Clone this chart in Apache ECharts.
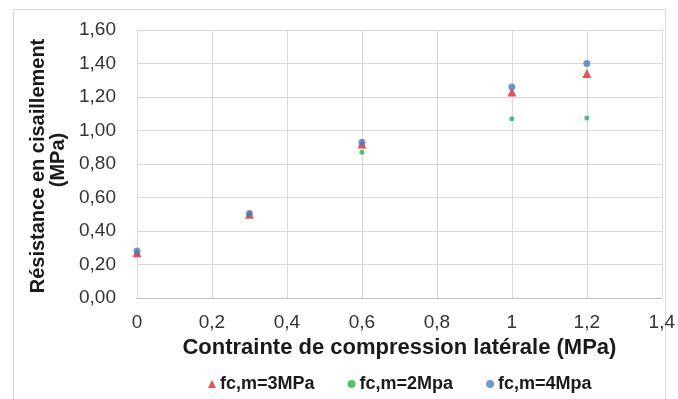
<!DOCTYPE html>
<html><head><meta charset="utf-8">
<script src="https://cdn.jsdelivr.net/npm/echarts@6/dist/echarts.min.js"></script>
<style>html,body{margin:0;padding:0;background:#fff}#c{width:678px;height:399px}</style>
</head><body><div id="c"></div>
<script>
const xValues = [0, 0.3, 0.6, 1.0, 1.2];
const s3MPa = [0.27, 0.50, 0.92, 1.23, 1.34];
const s2MPa = [0.27, 0.50, 0.87, 1.07, 1.075];
const s4MPa = [0.28, 0.505, 0.93, 1.26, 1.40];
const seriesNames = ['fc,m=3MPa', 'fc,m=2Mpa', 'fc,m=4Mpa'];
const yTitle1 = 'Résistance en cisaillement';
const yTitle2 = '(MPa)';
const xTitle = 'Contrainte de compression latérale (MPa)';

const pair = (vals) => xValues.map((x, i) => [x, vals[i]]);
const font = 'Liberation Sans, Arial, sans-serif';
const chart = echarts.init(document.getElementById('c'), null, {renderer: 'canvas'});
chart.setOption({
  animation: false,
  backgroundColor: '#fff',
  grid: {left: 137, right: 13, top: 30, bottom: 101, containLabel: false},
  xAxis: {
    type: 'value', min: 0, max: 1.4, interval: 0.2,
    name: xTitle, nameLocation: 'middle', nameGap: 36,
    nameTextStyle: {fontFamily: font, fontWeight: 'bold', fontSize: 22, color: '#1a1a1a'},
    axisLine: {show: true, lineStyle: {color: '#bfbfbf'}},
    axisTick: {show: false},
    axisLabel: {fontFamily: font, fontSize: 19, color: '#333', margin: 15,
      formatter: v => String(Math.round(v * 10) / 10).replace('.', ',')},
    splitLine: {show: true, lineStyle: {color: '#d9d9d9'}}
  },
  yAxis: {
    type: 'value', min: 0, max: 1.6, interval: 0.2,
    axisLine: {show: true, lineStyle: {color: '#d9d9d9'}},
    axisTick: {show: false},
    axisLabel: {fontFamily: font, fontSize: 19, color: '#333', margin: 21,
      formatter: v => v.toFixed(2).replace('.', ',')},
    splitLine: {show: true, lineStyle: {color: '#d9d9d9'}}
  },
  legend: {
    top: 370, left: 203, itemGap: 33, itemWidth: 8, itemHeight: 8,
    textStyle: {fontFamily: font, fontWeight: 'bold', fontSize: 18, color: '#1a1a1a', padding: [0, 0, 0, -1]},
    data: [
      {name: seriesNames[0], icon: 'triangle', itemStyle: {}},
      {name: seriesNames[1], icon: 'circle', itemStyle: {}},
      {name: seriesNames[2], icon: 'circle', itemStyle: {}}
    ]
  },
  graphic: [
    {type: 'rect', shape: {x: 13.5, y: 9.5, width: 652, height: 395}, style: {fill: 'none', stroke: '#d9d9d9', lineWidth: 1}, silent: true, z: -1},
    {type: 'text', x: 38, y: 166, rotation: Math.PI / 2, style: {text: yTitle1, font: 'bold 20px ' + font, fill: '#1a1a1a', textAlign: 'center', textVerticalAlign: 'middle'}},
    {type: 'text', x: 58, y: 160, rotation: Math.PI / 2, style: {text: yTitle2, font: 'bold 20px ' + font, fill: '#1a1a1a', textAlign: 'center', textVerticalAlign: 'middle'}}
  ],
  series: [
    {name: seriesNames[0], type: 'scatter', symbol: 'triangle', symbolSize: 9, itemStyle: {color: '#e8262a'}, data: pair(s3MPa), z: 3},
    {name: seriesNames[1], type: 'scatter', symbol: 'circle', symbolSize: 5, itemStyle: {color: '#2db34a'}, data: pair(s2MPa), z: 2},
    {name: seriesNames[2], type: 'scatter', symbol: 'circle', symbolSize: 7, itemStyle: {color: '#4a7ebb'}, data: pair(s4MPa), z: 4}
  ]
});
</script></body></html>
